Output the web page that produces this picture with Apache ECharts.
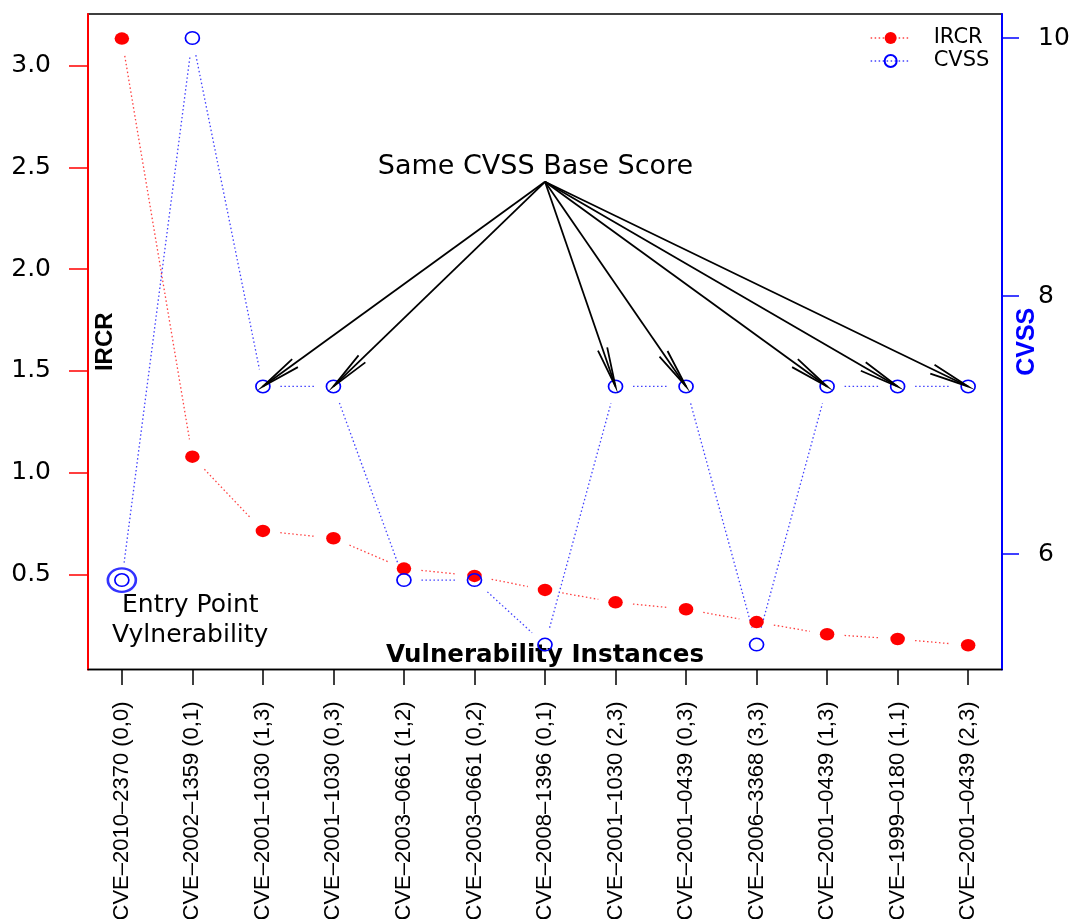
<!DOCTYPE html>
<html>
<head>
<meta charset="utf-8">
<script src="https://cdn.jsdelivr.net/npm/echarts@6/dist/echarts.min.js"></script>
<style>
  html, body { margin: 0; padding: 0; background: #ffffff; }
  #chart { width: 1072px; height: 919px; }
</style>
</head>
<body>
<div id="chart"></div>
<script>
// Vulnerability instances, ordered by IRCR
const categories = [
  'CVE–2010–2370 (0,0)', 'CVE–2002–1359 (0,1)', 'CVE–2001–1030 (1,3)',
  'CVE–2001–1030 (0,3)', 'CVE–2003–0661 (1,2)', 'CVE–2003–0661 (0,2)',
  'CVE–2008–1396 (0,1)', 'CVE–2001–1030 (2,3)', 'CVE–2001–0439 (0,3)',
  'CVE–2006–3368 (3,3)', 'CVE–2001–0439 (1,3)', 'CVE–1999–0180 (1,1)',
  'CVE–2001–0439 (2,3)'
];
const ircr = [3.133, 1.079, 0.714, 0.678, 0.529, 0.493, 0.424, 0.363, 0.329, 0.266, 0.206, 0.183, 0.152];
const cvss = [5.8, 10, 7.3, 7.3, 5.8, 5.8, 5.3, 7.3, 7.3, 5.3, 7.3, 7.3, 7.3];
const ircrTicks = [0.5, 1.0, 1.5, 2.0, 2.5, 3.0];
const cvssTicks = [6, 8, 10];
const sameScore = 7.3;

// Plot frame (pixels)
const GRID = { left: 88, right: 70, top: 14, bottom: 249.5 };
const W = 1072, H = 919;
const plotRight = W - GRID.right, plotBottom = H - GRID.bottom;

const xPos = categories.map((_, i) => i + 1);
const GAP = 17.5;               // blank space left around each point by the connecting lines
const ARROW_FROM = [7.0, 8.886]; // arrow origin below the label (x index, CVSS)
const HEAD = 40, SPREAD = 7 * Math.PI / 180;

const FONT = 'DejaVu Sans';
const FONT_R = 'Liberation Sans';

function segmentSeries(values, yAxisIndex, color) {
  const data = values.slice(0, -1).map((v, i) => [i + 1, v, i + 2, values[i + 1]]);
  return {
    type: 'custom', yAxisIndex, silent: true, z: 1,
    encode: { x: [0, 2], y: [1, 3] },
    data,
    renderItem(params, api) {
      const a = api.coord([api.value(0), api.value(1)]);
      const b = api.coord([api.value(2), api.value(3)]);
      const dx = b[0] - a[0], dy = b[1] - a[1];
      const len = Math.hypot(dx, dy);
      if (len <= 2 * GAP) return null;
      const ux = dx / len, uy = dy / len;
      return {
        type: 'line',
        shape: { x1: a[0] + ux * GAP, y1: a[1] + uy * GAP, x2: b[0] - ux * GAP, y2: b[1] - uy * GAP },
        style: { stroke: color, lineWidth: 1.3, lineDash: [1.5, 2.5] }
      };
    }
  };
}

const sameTargets = cvss.map((v, i) => [i + 1, v]).filter(d => d[1] === sameScore);

const option = {
  animation: false,
  backgroundColor: '#ffffff',
  grid: {
    left: GRID.left, right: GRID.right, top: GRID.top, bottom: GRID.bottom,
    show: true, borderColor: '#000000', borderWidth: 1.3, backgroundColor: 'transparent',
    outerBoundsMode: 'none', containLabel: false
  },
  legend: {
    left: 870, top: 27.5, orient: 'vertical', padding: 0, itemGap: 2,
    itemWidth: 40, itemHeight: 15, selectedMode: false,
    textStyle: { fontFamily: FONT, fontSize: 21, lineHeight: 21, color: '#000000', padding: [0, 0, 0, 18] },
    data: [
      { name: 'IRCR', lineStyle: { color: 'rgba(255,0,0,0.75)', type: [1.5, 2.5], width: 1.3, opacity: 1 } },
      { name: 'CVSS', lineStyle: { color: 'rgba(0,0,255,0.75)', type: [1.5, 2.5], width: 1.3, opacity: 1 } }
    ]
  },
  xAxis: {
    type: 'value', min: 0.52, max: 13.48, position: 'bottom',
    splitLine: { show: false },
    axisLine: { show: true, onZero: false, lineStyle: { color: '#000000', width: 1.3 } },
    axisTick: { show: true, customValues: xPos, length: 15.5, lineStyle: { color: '#000000', width: 1.5 } },
    axisLabel: {
      customValues: xPos, rotate: 90, margin: 32, color: '#000000',
      fontFamily: FONT_R, fontSize: 22,
      formatter: v => categories[Math.round(v) - 1]
    }
  },
  yAxis: [
    {
      type: 'value', position: 'left', min: 0.033, max: 3.254,
      splitLine: { show: false },
      axisLine: { show: true, onZero: false, lineStyle: { color: '#ff0000', width: 2 } },
      axisTick: { show: true, customValues: ircrTicks, length: 19, lineStyle: { color: '#ff0000', width: 1.5 } },
      axisLabel: {
        customValues: ircrTicks, margin: 37, color: '#000000',
        fontFamily: FONT, fontSize: 25, formatter: v => v.toFixed(1)
      }
    },
    {
      type: 'value', position: 'right', min: 5.107, max: 10.186,
      splitLine: { show: false },
      axisLine: { show: true, onZero: false, lineStyle: { color: '#0000ff', width: 2 } },
      axisTick: { show: true, customValues: cvssTicks, length: 17, lineStyle: { color: '#0000ff', width: 1.5 } },
      axisLabel: {
        customValues: cvssTicks, margin: 36, color: '#000000',
        fontFamily: FONT, fontSize: 25, formatter: v => String(v)
      }
    }
  ],
  series: [
    segmentSeries(ircr, 0, 'rgba(255,0,0,0.75)'),
    segmentSeries(cvss, 1, 'rgba(0,0,255,0.75)'),
    {
      name: 'IRCR', type: 'line', yAxisIndex: 0, z: 3,
      data: ircr.map((v, i) => [i + 1, v]),
      symbol: 'circle', symbolSize: [14.5, 12.5], showAllSymbol: true,
      itemStyle: { color: '#ff0000' },
      lineStyle: { color: '#ff0000', opacity: 0 },
      emphasis: { disabled: true }
    },
    {
      name: 'CVSS', type: 'line', yAxisIndex: 1, z: 4,
      data: cvss.map((v, i) => [i + 1, v]),
      symbol: 'circle', symbolSize: [14, 12.5], showAllSymbol: true,
      itemStyle: { color: 'rgba(255,255,255,0)', borderColor: '#0000ff', borderWidth: 1.6 },
      lineStyle: { color: '#0000ff', opacity: 0 },
      emphasis: { disabled: true }
    },
    {
      // ring marking the entry point vulnerability
      type: 'scatter', yAxisIndex: 1, z: 4, silent: true,
      data: [[1, cvss[0]]],
      symbol: 'circle', symbolSize: [28, 23.5],
      itemStyle: { color: 'rgba(255,255,255,0)', borderColor: '#0000ff', borderWidth: 2.4 }
    },
    {
      // arrows from the label to every instance sharing the same base score
      type: 'custom', yAxisIndex: 1, z: 5, silent: true,
      data: sameTargets,
      renderItem(params, api) {
        const tip = api.coord([api.value(0), api.value(1)]);
        const from = api.coord(ARROW_FROM);
        const ang = Math.atan2(from[1] - tip[1], from[0] - tip[0]);
        const b1 = [tip[0] + HEAD * Math.cos(ang + SPREAD), tip[1] + HEAD * Math.sin(ang + SPREAD)];
        const b2 = [tip[0] + HEAD * Math.cos(ang - SPREAD), tip[1] + HEAD * Math.sin(ang - SPREAD)];
        const st = { stroke: '#000000', lineWidth: 1.8, fill: null };
        return {
          type: 'group',
          children: [
            { type: 'line', shape: { x1: from[0], y1: from[1], x2: tip[0], y2: tip[1] }, style: st },
            { type: 'polyline', shape: { points: [b1, tip, b2] }, style: st }
          ]
        };
      }
    },
    {
      type: 'custom', yAxisIndex: 1, z: 5, silent: true,
      data: [[6.865, 9.0]],
      renderItem(params, api) {
        const c = api.coord([api.value(0), api.value(1)]);
        return {
          type: 'text', x: c[0], y: c[1],
          style: { text: 'Same CVSS Base Score', fill: '#000000', fontFamily: FONT, fontSize: 27, align: 'center', verticalAlign: 'middle' }
        };
      }
    },
    {
      type: 'custom', yAxisIndex: 0, z: 5, silent: true,
      data: [[1.97, 0.275]],
      renderItem(params, api) {
        const c = api.coord([api.value(0), api.value(1)]);
        return {
          type: 'text', x: c[0], y: c[1],
          style: { text: 'Entry Point\nVylnerability', fill: '#000000', fontFamily: FONT, fontSize: 25, lineHeight: 30, align: 'center', verticalAlign: 'middle' }
        };
      }
    }
  ],
  graphic: [
    {
      type: 'text', x: GRID.left + 17, y: (GRID.top + plotBottom) / 2, rotation: Math.PI / 2,
      style: { text: 'IRCR', fill: '#000000', fontFamily: FONT_R, fontWeight: 'bold', fontSize: 24, align: 'center', verticalAlign: 'middle' }
    },
    {
      type: 'text', x: plotRight + 25, y: (GRID.top + plotBottom) / 2, rotation: Math.PI / 2,
      style: { text: 'CVSS', fill: '#0000ff', fontFamily: FONT_R, fontWeight: 'bold', fontSize: 25, align: 'center', verticalAlign: 'middle' }
    },
    {
      type: 'text', x: (GRID.left + plotRight) / 2, y: plotBottom - 14,
      style: { text: 'Vulnerability Instances', fill: '#000000', fontFamily: FONT, fontWeight: 'bold', fontSize: 24.5, align: 'center', verticalAlign: 'middle' }
    }
  ]
};

const chart = echarts.init(document.getElementById('chart'), null, { renderer: 'canvas' });
chart.setOption(option);
</script>
</body>
</html>
